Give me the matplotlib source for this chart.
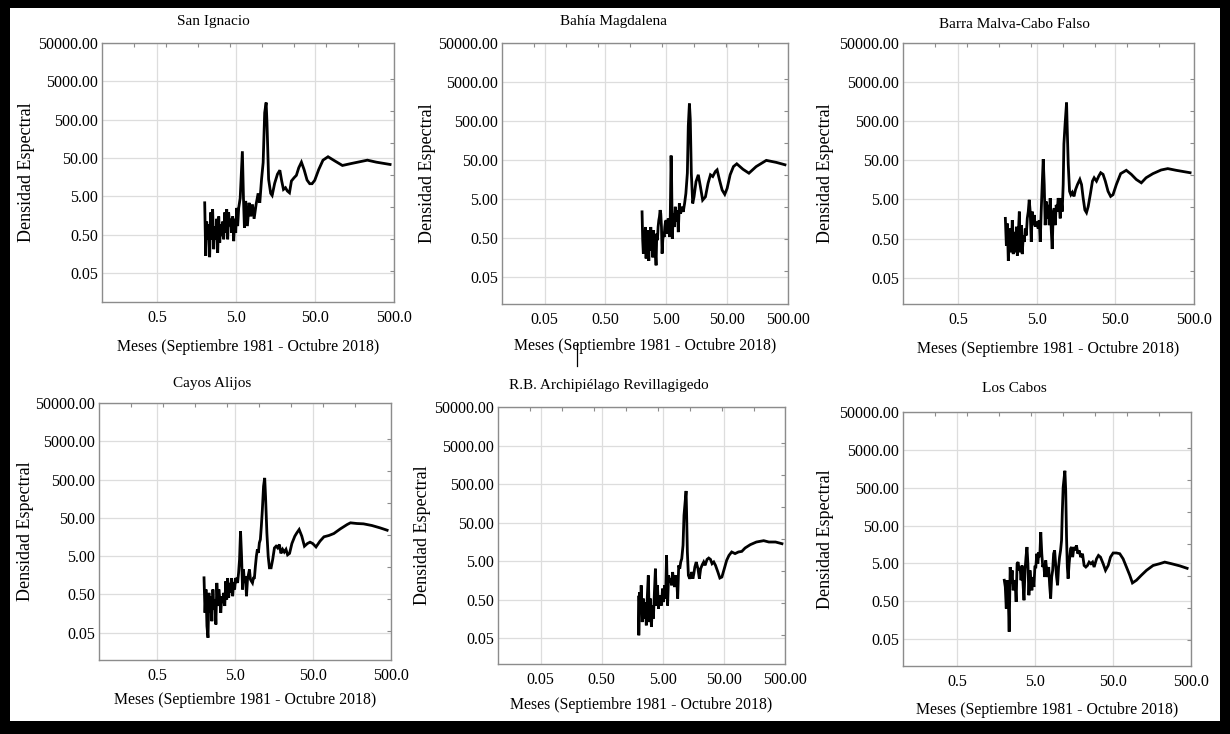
import matplotlib
matplotlib.use("Agg")
import numpy as np
import matplotlib.pyplot as plt
from matplotlib.patches import Rectangle
from matplotlib.lines import Line2D
from matplotlib.ticker import FixedLocator, FixedFormatter, NullLocator

plt.rcParams['font.family'] = ['Liberation Serif', 'DejaVu Serif']

# ---------------- data (period in months, spectral density) ----------------
san_ignacio = [(2.00,3.4),(2.06,0.14),(2.12,1.1),(2.18,0.38),(2.25,0.93),(2.31,0.13),(2.38,1.9),(2.45,0.38),
    (2.52,2.3),(2.60,0.21),(2.68,0.84),(2.76,0.38),(2.84,1.3),(2.92,0.17),(3.01,1.5),(3.10,0.31),(3.19,0.93),
    (3.28,0.46),(3.38,1.1),(3.48,0.38),(3.58,1.9),(3.69,0.56),(3.80,2.3),(3.91,0.38),(4.02,1.9),(4.14,0.84),
    (4.27,1.3),(4.39,0.56),(4.52,1.5),(4.66,0.34),(4.80,1.3),(4.94,0.56),(5.08,2.5),(5.23,0.84),(5.39,2.5),
    (5.63,4.5),(6.0,75),(6.2,4.2),(6.37,0.76),(6.62,3.8),(6.95,0.84),(7.3,3.4),(7.67,1.5),(8.05,3.1),(8.45,1.3),
    (8.96,3.1),(9.5,6.0),(9.97,3.4),(10.5,14),(11.0,38),(11.5,760),(12.0,1400),(12.3,420),(12.9,14),(13.7,6.0),
    (14.3,5.3),(15.4,11),(16.7,19),(17.9,24),(18.9,12.6),(19.9,7.6),(21.1,8.4),(22.3,6.9),(23.7,6.2),(25.1,12.6),
    (27.1,15.3),(29.0,17.7),(31.1,28),(33.6,39),(36.3,25),(39.6,13.3),(42.8,10.7),(45.8,10.7),(49.5,13.1),
    (55.6,25),(63,44),(73,54),(89,42),(111,32),(144,36),(230,44),(299,39),(446,34)]

bahia_magdalena = [(2.00,2.35),(2.05,0.44),(2.10,0.20),(2.16,0.71),(2.21,0.29),(2.27,0.96),(2.33,0.15),(2.39,0.53),
    (2.45,0.20),(2.51,0.79),(2.58,0.13),(2.64,0.65),(2.71,0.24),(2.78,0.96),(2.85,0.44),(2.92,0.65),(3.00,0.16),
    (3.07,0.79),(3.15,0.29),(3.23,0.53),(3.32,0.20),(3.40,0.10),(3.49,0.65),(3.58,0.44),(3.67,0.96),(3.77,1.43),
    (3.86,1.75),(3.96,2.6),(4.06,2.13),(4.17,0.96),(4.27,0.20),(4.38,0.44),(4.50,0.71),(4.61,0.53),(4.73,0.96),
    (4.85,1.3),(4.98,1.43),(5.10,0.65),(5.24,1.06),(5.37,1.58),(5.50,0.96),(5.65,0.53),(5.80,1.3),(6.0,65),
    (6.12,15.5),(6.28,0.48),(6.52,2.13),(6.77,0.96),(7.03,3.17),(7.31,1.3),(7.6,2.6),(7.88,0.71),(8.2,3.86),
    (8.6,2.13),(9.06,3.17),(9.5,2.35),(10.0,3.86),(10.5,7.0),(11.1,23),(11.5,372),(12.0,1400),(12.4,552),
    (12.9,23),(13.6,3.86),(14.3,5.7),(15.4,14),(16.8,20.9),(18.2,10.4),(19.8,4.7),(22,5.7),(24.3,12.7),
    (26.6,20.9),(29,18.9),(32.1,25.5),(34.2,28),(37.4,15.5),(41.4,8.5),(45.7,6.6),(50,9.4),(56,20.9),
    (63.5,34),(72,40),(91,29),(114,23),(150,34),(220,49),(321,43.5),(446,37.8)]

barra_malva = [(2.00,1.64),(2.06,0.33),(2.12,1.21),(2.18,0.135),(2.25,0.50),(2.31,0.90),(2.38,0.223),(2.45,1.48),
    (2.52,0.20),(2.60,0.74),(2.68,0.223),(2.76,1.0),(2.84,0.183),(2.92,0.60),(3.01,2.44),(3.10,0.223),(3.19,1.10),
    (3.28,0.20),(3.38,0.60),(3.48,0.41),(3.58,0.90),(3.69,0.60),(3.80,1.64),(3.91,2.44),(4.02,4.9),(4.14,2.44),
    (4.27,0.41),(4.39,2.44),(4.52,1.10),(4.66,2.0),(4.80,1.0),(4.94,1.34),(5.08,1.21),(5.23,0.90),(5.39,1.48),
    (5.55,0.41),(5.71,2.44),(5.88,12.0),(6.06,53.6),(6.24,12.0),(6.42,1.10),(6.61,4.43),(6.81,1.64),(7.01,3.63),
    (7.22,1.10),(7.43,5.42),(7.65,0.90),(7.88,0.27),(8.12,2.44),(8.36,2.98),(8.60,1.10),(8.86,3.63),(9.12,2.44),
    (9.39,5.42),(9.67,3.63),(9.96,1.64),(10.25,5.42),(10.56,2.44),(10.87,12.0),(11.1,131),(11.5,435),(12.0,1497),
    (12.2,393),(12.6,39.7),(13.1,8.07),(13.6,6.6),(14.2,7.6),(14.9,5.98),(15.6,8.9),(16.5,12.0),(17.7,16.2),
    (18.6,12.0),(19.5,5.42),(20.5,2.7),(21.5,2.3),(22.6,3.29),(24.2,7.3),(25.6,14.7),(26.9,17.9),(28.8,14.7),
    (30.8,19.8),(32.6,24.1),(34.9,21.9),(37.3,14.7),(40.4,8.07),(43.6,5.98),(46.7,6.6),(51.5,12.0),(58.4,22.8),
    (68.9,27.8),(79.8,21.9),(92.3,16.2),(107,13.3),(123,17.9),(150,22.8),(191,28.3),(232,30.7),(296,27.8),
    (446,24.1)]

cayos_alijos = [(2.00,1.36),(2.06,0.166),(2.12,0.675),(2.18,0.075),(2.25,0.037),(2.31,0.55),(2.38,0.166),(2.45,0.45),
    (2.52,0.10),(2.60,0.675),(2.68,0.203),(2.76,0.37),(2.84,0.082),(2.92,1.0),(3.01,0.25),(3.10,0.675),(3.19,0.37),
    (3.28,0.166),(3.38,0.45),(3.48,0.30),(3.58,0.55),(3.69,0.25),(3.80,1.10),(3.91,0.37),(4.02,1.34),(4.14,0.41),
    (4.27,1.0),(4.39,0.55),(4.52,1.34),(4.66,0.45),(4.80,1.05),(4.94,0.675),(5.08,1.34),(5.23,1.23),(5.39,1.0),
    (5.55,1.84),(5.71,4.1),(5.88,22.4),(6.06,5.0),(6.24,0.675),(6.42,2.24),(6.61,1.0),(6.81,1.50),(7.01,0.45),
    (7.22,1.23),(7.43,1.66),(7.65,2.24),(7.88,1.23),(8.12,1.10),(8.36,1.0),(8.60,1.34),(8.86,1.36),(9.12,2.74),
    (9.39,5.0),(9.67,7.5),(9.96,6.1),(10.25,11.1),(10.56,13.6),(10.87,30.3),(11.2,82),(11.6,335),(12.0,553),
    (12.3,184),(12.8,20.3),(13.3,5.0),(13.8,2.48),(14.5,2.48),(15.2,4.1),(16.0,8.2),(16.8,9.1),(17.6,8.2),
    (18.5,10.1),(19.4,5.9),(20.4,7.5),(21.4,6.4),(22.5,7.5),(23.6,5.4),(25.0,5.9),(26.8,10.7),(29.2,16.6),
    (31.0,20.3),(33.2,24.8),(35.9,16.6),(38.8,9.1),(42.4,10.7),(45.8,11.6),(49.5,10.7),(54.6,8.7),(61.4,12.3),
    (69,16.0),(79.8,17.3),(92.5,19.5),(112,25.8),(137,33.5),(151,37.1),(183,35.6),(222,34.9),(284,31.6),
    (362,27.4),(446,23.8)]

revillagigedo = [(2.0,0.58),(2.02,0.059),(2.08,0.78),(2.16,0.24),(2.21,1.17),(2.30,0.13),(2.39,0.53),(2.48,0.16),
    (2.58,0.43),(2.68,0.107),(2.79,0.64),(2.89,2.12),(3.01,0.13),(3.12,0.53),(3.25,0.097),(3.37,0.35),(3.50,0.16),
    (3.64,0.78),(3.78,3.16),(3.93,0.35),(4.08,1.17),(4.24,0.29),(4.40,0.64),(4.57,0.53),(4.75,0.35),(4.94,0.96),
    (5.13,0.43),(5.33,1.17),(5.54,0.53),(5.75,7.0),(5.98,0.35),(6.21,2.12),(6.45,1.42),(6.70,1.74),(6.96,1.17),
    (7.23,2.59),(7.51,1.42),(7.81,1.06),(8.11,2.12),(8.42,1.74),(8.75,0.53),(9.09,3.86),(9.45,3.16),(9.81,4.71),
    (10.2,5.75),(10.7,12.8),(11.1,77),(12.0,330),(12.2,114),(12.6,8.6),(13.1,2.12),(13.8,1.74),(14.4,2.12),
    (14.9,2.59),(15.5,1.74),(16.1,2.35),(16.7,3.49),(17.6,4.71),(18.8,3.16),(19.8,1.74),(20.8,3.16),(22.1,4.02),
    (23.3,4.71),(24.5,3.86),(26.5,5.52),(28.2,5.98),(30.1,5.52),(32.0,4.27),(34.1,4.71),(36.4,3.86),(39.8,2.59),
    (42.9,1.81),(46.3,1.92),(50.7,3.16),(55.4,5.2),(60.5,7.0),(67.0,8.6),(76.1,7.8),(86.4,8.6),(98.1,8.9),
    (111,10.9),(135,13.3),(170,15.6),(224,16.9),(272,15.6),(350,15.6),(446,14.1)]

los_cabos = [(2.00,1.79),(2.06,1.19),(2.12,0.32),(2.18,1.79),(2.25,0.65),(2.31,0.078),(2.38,4.0),(2.45,1.46),
    (2.52,3.27),(2.60,0.97),(2.68,1.79),(2.76,1.46),(2.84,0.48),(2.92,4.9),(3.01,5.4),(3.10,3.27),(3.19,4.0),
    (3.28,1.79),(3.38,4.4),(3.48,1.46),(3.58,0.53),(3.69,3.27),(3.80,7.3),(3.91,13.5),(4.02,4.9),(4.14,0.72),
    (4.27,3.27),(4.39,1.79),(4.52,0.97),(4.66,2.18),(4.80,1.19),(4.94,4.0),(5.08,4.0),(5.23,9.0),(5.39,4.9),
    (5.55,9.9),(5.71,7.3),(5.88,33.4),(6.06,9.0),(6.24,4.0),(6.42,4.9),(6.61,2.18),(6.81,6.0),(7.01,3.27),
    (7.22,2.18),(7.43,4.0),(7.65,1.32),(7.88,0.59),(8.12,2.18),(8.36,3.27),(8.60,9.0),(8.86,11.0),(9.12,4.9),
    (9.39,2.18),(9.67,1.32),(9.96,4.0),(10.25,7.3),(10.56,11.0),(10.87,20.1),(11.1,101),(11.4,510),(12.0,1400),
    (12.3,417),(12.6,24.7),(12.9,4.0),(13.2,1.97),(13.6,4.9),(14.2,12.2),(14.6,13.5),(15.1,7.3),(15.7,13.5),
    (16.3,11.0),(16.9,14.9),(17.6,9.0),(18.3,11.0),(19.2,7.3),(20.2,9.0),(21.2,4.4),(22.3,4.0),(23.4,4.4),
    (24.6,5.4),(25.9,4.9),(27.2,5.4),(28.5,4.0),(30.6,6.6),(32.4,8.1),(34.4,7.3),(37.2,4.9),(39.9,3.27),
    (43.2,4.4),(46.2,7.3),(50.0,9.4),(55.2,9.4),(60.8,9.0),(67.1,6.6),(74.1,4.0),(81.8,2.42),(88.5,1.52),
    (99.6,1.79),(115,2.42),(134,3.27),(163,4.4),(198,4.9),(230,5.4),(280,4.9),(358,4.3),(446,3.7)]

titles = ["San Ignacio", "Bahía Magdalena", "Barra Malva-Cabo Falso",
          "Cayos Alijos", "R.B. Archipiélago Revillagigedo", "Los Cabos"]
series = [san_ignacio, bahia_magdalena, barra_malva, cayos_alijos, revillagigedo, los_cabos]
xlabel_text = "Meses (Septiembre 1981 - Octubre 2018)"
ylabel_text = "Densidad Espectral"

y_ticks = [0.05, 0.5, 5, 50, 500, 5000, 50000]
y_tick_labels = ["0.05", "0.50", "5.00", "50.00", "500.00", "5000.00", "50000.00"]
x_ticks_a = [0.5, 5, 50, 500]
x_tick_labels_a = ["0.5", "5.0", "50.0", "500.0"]
x_ticks_b = [0.05, 0.5, 5, 50, 500]
x_tick_labels_b = ["0.05", "0.50", "5.00", "50.00", "500.00"]

# ---------------- layout (pixels of a 1230x734 canvas) ----------------
W, H = 1230, 734
layout = [
    dict(box=(102, 43, 394, 302), xmin=0.1,  ymin=0.0088, kind='a', title=(213, 21),  xl=347, yl=27),
    dict(box=(502, 43, 788, 304), xmin=0.01, ymin=0.0102, kind='b', title=(613, 22),  xl=346, yl=427),
    dict(box=(903, 43, 1194, 304), xmin=0.1, ymin=0.0106, kind='a', title=(1014, 25), xl=349, yl=825),
    dict(box=(99, 403, 391, 660), xmin=0.09, ymin=0.0097, kind='a', title=(212, 383), xl=700, yl=25),
    dict(box=(498, 407, 785, 664), xmin=0.01, ymin=0.0106, kind='b', title=(609, 385), xl=705, yl=422),
    dict(box=(903, 412, 1191, 666), xmin=0.1, ymin=0.0097, kind='a', title=(1014, 388), xl=710, yl=825),
]

fig = plt.figure(figsize=(W / 100, H / 100), dpi=100)
fig.patch.set_facecolor('black')
fig.add_artist(Rectangle((10 / W, 1 - 721 / H), (1220 - 10) / W, (721 - 8) / H,
                         transform=fig.transFigure, facecolor='white', edgecolor='none', zorder=-10))

spine_col = '#8c8c8c'
grid_col = '#dddddd'
FS_TICK = 11.5

for data, title, lay in zip(series, titles, layout):
    x0, y0, x1, y1 = lay['box']
    w, h = x1 - x0, y1 - y0
    ax = fig.add_axes([x0 / W, 1 - y1 / H, w / W, h / H])
    per = [p for p, _ in data]
    dens = [d for _, d in data]
    ax.plot(per, dens, color='black', lw=2.0, solid_joinstyle='miter', zorder=3)
    ax.set_xscale('log')
    ax.set_yscale('log')
    ax.set_xlim(lay['xmin'], 500)
    ax.set_ylim(lay['ymin'], 50000)
    if lay['kind'] == 'a':
        xt, xtl = x_ticks_a, x_tick_labels_a
    else:
        xt, xtl = x_ticks_b, x_tick_labels_b
    ax.xaxis.set_major_locator(FixedLocator(xt))
    ax.xaxis.set_major_formatter(FixedFormatter(xtl))
    ax.yaxis.set_major_locator(FixedLocator(y_ticks))
    ax.yaxis.set_major_formatter(FixedFormatter(y_tick_labels))
    ax.xaxis.set_minor_locator(NullLocator())
    ax.yaxis.set_minor_locator(NullLocator())
    ax.tick_params(axis='both', which='major', length=0, labelsize=FS_TICK, colors='black')
    ax.tick_params(axis='x', pad=6)
    ax.tick_params(axis='y', pad=3)
    ax.grid(True, color=grid_col, lw=0.9, zorder=0)
    for s in ax.spines.values():
        s.set_color(spine_col)
        s.set_linewidth(1.0)

    ax.set_xlabel(xlabel_text, fontsize=11.3)
    ax.xaxis.set_label_coords(0.5, -(lay['xl'] - y1) / h)
    ax.xaxis.label.set_va('center')
    ax.set_ylabel(ylabel_text, fontsize=13)
    ax.yaxis.set_label_coords((lay['yl'] - x0) / w, 0.5)
    ax.yaxis.label.set_va('center')
    tx, ty = lay['title']
    fig.text(tx / W, 1 - ty / H, title, fontsize=11, ha='center', va='center')

    # small inner ticks on the top and right frame
    top = ax.twiny()
    top.set_xscale('linear')
    top.set_xlim(0, w)
    top.set_xticks(np.arange(32, w - 4, 32))
    top.tick_params(axis='x', direction='in', length=3, width=0.8, color=spine_col,
                    labeltop=False, labelbottom=False, top=True, bottom=False)
    for s in top.spines.values():
        s.set_visible(False)
    right = ax.twinx()
    right.set_ylim(h, 0)
    right.set_yticks(np.arange(36, h - 4, 32))
    right.tick_params(axis='y', direction='in', length=3, width=0.8, color=spine_col,
                      labelright=False, labelleft=False, right=True, left=False)
    for s in right.spines.values():
        s.set_visible(False)

# small cursor artefact next to the second x label
fig.add_artist(Line2D([577 / W, 577 / W], [1 - 344 / H, 1 - 366 / H], color='black', lw=0.9,
                      transform=fig.transFigure))

fig.savefig("out.png", dpi=100, facecolor=fig.get_facecolor())
